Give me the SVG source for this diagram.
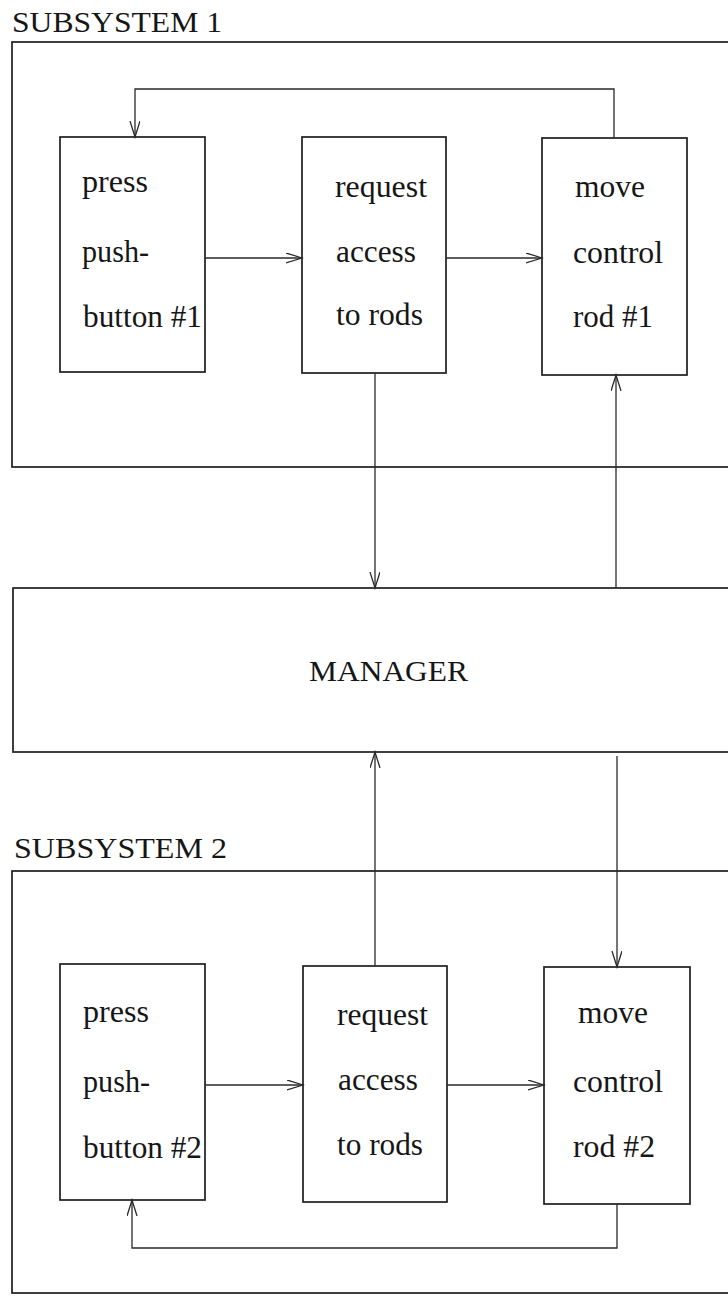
<svg xmlns="http://www.w3.org/2000/svg" width="728" height="1296" viewBox="0 0 728 1296">
<style>
  .box{fill:none;stroke:#1e1e1e;stroke-width:1.7}
  .frame{fill:none;stroke:#1e1e1e;stroke-width:1.7}
  .con{fill:none;stroke:#2a2a2a;stroke-width:1.3}
  text{font-family:"Liberation Serif","Times New Roman",serif;font-size:32px;fill:#161616}
  .title{font-size:30px}
</style>
<defs>
  <marker id="arr" markerUnits="userSpaceOnUse" markerWidth="18" markerHeight="12" refX="16" refY="5" orient="auto">
    <path d="M0,0 L16,5 L0,10" fill="none" stroke="#2a2a2a" stroke-width="1.3"/>
  </marker>
</defs>
<rect width="728" height="1296" fill="#fff"/>

<g id="subsystem1">
  <text class="title" x="12" y="32" textLength="210" lengthAdjust="spacingAndGlyphs">SUBSYSTEM 1</text>
  <rect class="frame" x="12" y="42" width="760" height="425"/>
</g>
<g id="s1-press">
  <rect class="box" x="60" y="137" width="145" height="235"/>
  <text x="82" y="192" textLength="66" lengthAdjust="spacingAndGlyphs">press</text>
  <text x="82" y="262" textLength="67" lengthAdjust="spacingAndGlyphs">push-</text>
  <text x="83" y="327" textLength="119" lengthAdjust="spacingAndGlyphs">button #1</text>
</g>
<g id="s1-request">
  <rect class="box" x="302" y="137" width="144" height="236"/>
  <text x="335" y="197" textLength="92" lengthAdjust="spacingAndGlyphs">request</text>
  <text x="336" y="262" textLength="80" lengthAdjust="spacingAndGlyphs">access</text>
  <text x="336" y="325" textLength="87" lengthAdjust="spacingAndGlyphs">to rods</text>
</g>
<g id="s1-move">
  <rect class="box" x="542" y="138" width="145" height="237"/>
  <text x="575" y="197" textLength="70" lengthAdjust="spacingAndGlyphs">move</text>
  <text x="573" y="263" textLength="90" lengthAdjust="spacingAndGlyphs">control</text>
  <text x="573" y="327" textLength="80" lengthAdjust="spacingAndGlyphs">rod #1</text>
</g>

<g id="manager">
  <rect class="frame" x="13" y="588" width="760" height="164"/>
  <text class="title" x="309" y="681" textLength="159" lengthAdjust="spacingAndGlyphs">MANAGER</text>
</g>

<g id="subsystem2">
  <text class="title" x="14" y="858" textLength="213" lengthAdjust="spacingAndGlyphs">SUBSYSTEM 2</text>
  <rect class="frame" x="12" y="871" width="760" height="422"/>
</g>
<g id="s2-press">
  <rect class="box" x="60" y="964" width="145" height="236"/>
  <text x="83" y="1022" textLength="66" lengthAdjust="spacingAndGlyphs">press</text>
  <text x="83" y="1092" textLength="67" lengthAdjust="spacingAndGlyphs">push-</text>
  <text x="83" y="1158" textLength="119" lengthAdjust="spacingAndGlyphs">button #2</text>
</g>
<g id="s2-request">
  <rect class="box" x="303" y="966" width="144" height="236"/>
  <text x="337" y="1025" textLength="91" lengthAdjust="spacingAndGlyphs">request</text>
  <text x="338" y="1090" textLength="80" lengthAdjust="spacingAndGlyphs">access</text>
  <text x="337" y="1155" textLength="86" lengthAdjust="spacingAndGlyphs">to rods</text>
</g>
<g id="s2-move">
  <rect class="box" x="544" y="967" width="146" height="237"/>
  <text x="578" y="1023" textLength="70" lengthAdjust="spacingAndGlyphs">move</text>
  <text x="573" y="1092" textLength="90" lengthAdjust="spacingAndGlyphs">control</text>
  <text x="573" y="1157" textLength="82" lengthAdjust="spacingAndGlyphs">rod #2</text>
</g>

<g id="connectors">
  <!-- subsystem 1 -->
  <path class="con" d="M614,138 V89 H135 V137" marker-end="url(#arr)"/>
  <path class="con" d="M205,258 H302" marker-end="url(#arr)"/>
  <path class="con" d="M446,258 H542" marker-end="url(#arr)"/>
  <path class="con" d="M375,373 V588" marker-end="url(#arr)"/>
  <path class="con" d="M616,588 V375" marker-end="url(#arr)"/>
  <!-- subsystem 2 -->
  <path class="con" d="M375,966 V752" marker-end="url(#arr)"/>
  <path class="con" d="M617,756 V967" marker-end="url(#arr)"/>
  <path class="con" d="M205,1085 H303" marker-end="url(#arr)"/>
  <path class="con" d="M447,1085 H544" marker-end="url(#arr)"/>
  <path class="con" d="M617,1204 V1248 H132 V1200" marker-end="url(#arr)"/>
</g>
</svg>
